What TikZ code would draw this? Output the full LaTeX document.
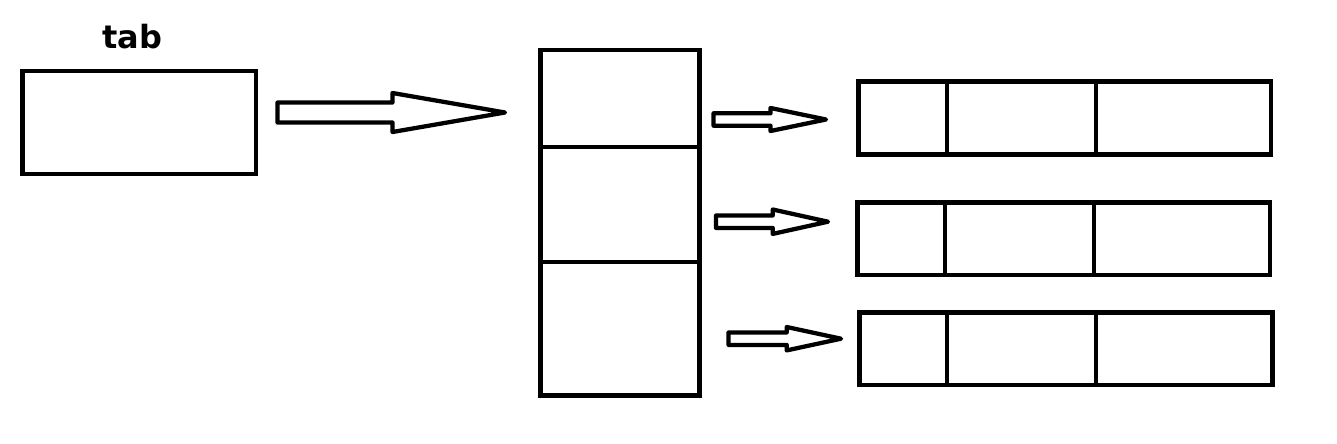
\documentclass[tikz,border=0pt]{standalone}
\usepackage{fontspec}
\newfontfamily\labelfont{DejaVu Sans}
\usetikzlibrary{fit,calc}
\tikzset{
  boxline/.style={draw=black, line width=3.4pt, inner sep=0pt, outer sep=0pt, fill=none},
  divline/.style={draw=black, line width=2.8pt},
  blockarrow/.style={draw=black, line width=3.2pt, line join=round, fill=white},
  title/.style={font=\labelfont\bfseries\fontsize{24}{28}\selectfont, anchor=base, inner sep=0pt}
}
% #1 tail coordinate name, #2 tip coordinate name, #3 head base x, #4 shaft half, #5 head half
\newcommand\blockarr[5]{%
  \draw[blockarrow] ($(#1)+(0,-#4)$) -- ($(#3,0 |- #1)+(0,-#4)$) -- ($(#3,0 |- #1)+(0,-#5)$)
    -- (#2) -- ($(#3,0 |- #1)+(0,#5)$) -- ($(#3,0 |- #1)+(0,#4)$) -- ($(#1)+(0,#4)$) -- cycle;}
\begin{document}
\begin{tikzpicture}[x=0.75pt, y=-0.75pt]
\useasboundingbox (0,0) rectangle (1337,443);
\fill[white] (0,0) rectangle (1337,443);

% tab box and title
\node[boxline, fit={(22.5,70.8) (255.8,174.2)}] (tab) {};
\node[title] (tablabel) at (132.5,48.3) {tab};

% middle array
\node[boxline, fit={(540.5,50) (699.5,395.5)}] (arr) {};
\draw[divline] (arr.west |- 0,147) -- (arr.east |- 0,147);
\draw[divline] (arr.west |- 0,262) -- (arr.east |- 0,262);

% right records
\node[boxline, fit={(858.5,81.5) (1271,154.5)}] (r1) {};
\node[boxline, fit={(857.5,202.5) (1270,274.8)}] (r2) {};
\node[boxline, fit={(859.7,312.5) (1272.5,385)}] (r3) {};
\draw[divline] (946.7,0 |- r1.north) -- (946.7,0 |- r1.south);
\draw[divline] (1095.7,0 |- r1.north) -- (1095.7,0 |- r1.south);
\draw[divline] (945.3,0 |- r2.north) -- (945.3,0 |- r2.south);
\draw[divline] (1094.3,0 |- r2.north) -- (1094.3,0 |- r2.south);
\draw[divline] (947.3,0 |- r3.north) -- (947.3,0 |- r3.south);
\draw[divline] (1096.3,0 |- r3.north) -- (1096.3,0 |- r3.south);

% block arrows
\coordinate (a0t) at (277.5,112.5);
\coordinate (a0h) at (505,112.5);
\blockarr{a0t}{a0h}{392.5}{10}{19.5}
\coordinate (a1t) at (713.5,119.5);
\coordinate (a1h) at (826,119.5);
\blockarr{a1t}{a1h}{770.5}{6.2}{11.5}
\coordinate (a2t) at (716,221.7);
\coordinate (a2h) at (828,221.7);
\blockarr{a2t}{a2h}{772.7}{6.2}{12.2}
\coordinate (a3t) at (728.5,338.7);
\coordinate (a3h) at (841,338.7);
\blockarr{a3t}{a3h}{786.7}{6.2}{11.7}
\end{tikzpicture}
\end{document}
